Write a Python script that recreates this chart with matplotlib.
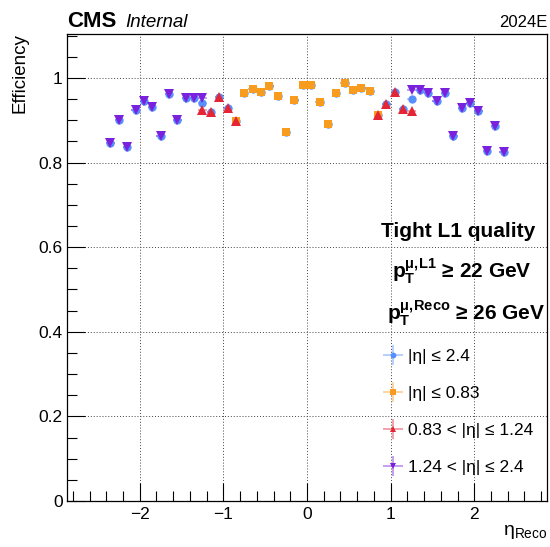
import matplotlib
matplotlib.use("Agg")
from matplotlib import pyplot as plt
from matplotlib.ticker import MultipleLocator
from matplotlib.legend_handler import HandlerErrorbar
from matplotlib.container import ErrorbarContainer

plt.rcParams['font.family'] = ['Liberation Sans', 'DejaVu Sans']
plt.rcParams['mathtext.fontset'] = 'custom'
plt.rcParams['mathtext.rm'] = 'Liberation Sans'
plt.rcParams['mathtext.it'] = 'Liberation Sans:italic'
plt.rcParams['mathtext.bf'] = 'Liberation Sans:bold'

# bin centres (eta_Reco), bin width 0.1
eta_all = [-2.35, -2.25, -2.15, -2.05, -1.95, -1.85, -1.75, -1.65, -1.55, -1.45, -1.35, -1.25,
           -1.15, -1.05, -0.95, -0.85, -0.75, -0.65, -0.55, -0.45, -0.35, -0.25, -0.15, -0.05,
           0.05, 0.15, 0.25, 0.35, 0.45, 0.55, 0.65, 0.75, 0.85, 0.95, 1.05, 1.15,
           1.25, 1.35, 1.45, 1.55, 1.65, 1.75, 1.85, 1.95, 2.05, 2.15, 2.25, 2.35]
eff_all = [0.847, 0.901, 0.836, 0.925, 0.945, 0.932, 0.863, 0.961, 0.900, 0.953, 0.953, 0.941,
           0.920, 0.956, 0.929, 0.899, 0.965, 0.974, 0.967, 0.982, 0.957, 0.873, 0.947, 0.984,
           0.983, 0.944, 0.891, 0.965, 0.987, 0.972, 0.976, 0.969, 0.913, 0.938, 0.968, 0.927,
           0.950, 0.971, 0.965, 0.946, 0.964, 0.863, 0.928, 0.940, 0.921, 0.828, 0.887, 0.826]

eta_brl = [-0.85, -0.75, -0.65, -0.55, -0.45, -0.35, -0.25, -0.15, -0.05,
           0.05, 0.15, 0.25, 0.35, 0.45, 0.55, 0.65, 0.75, 0.85]
eff_brl = [0.899, 0.965, 0.974, 0.967, 0.982, 0.957, 0.873, 0.947, 0.984,
           0.983, 0.944, 0.891, 0.965, 0.987, 0.972, 0.976, 0.969, 0.913]

eta_ovl = [-1.25, -1.15, -1.05, -0.95, -0.85, 0.85, 0.95, 1.05, 1.15, 1.25]
eff_ovl = [0.925, 0.920, 0.956, 0.929, 0.899, 0.913, 0.938, 0.968, 0.927, 0.921]

eta_end = [-2.35, -2.25, -2.15, -2.05, -1.95, -1.85, -1.75, -1.65, -1.55, -1.45, -1.35, -1.25,
           1.25, 1.35, 1.45, 1.55, 1.65, 1.75, 1.85, 1.95, 2.05, 2.15, 2.25, 2.35]
eff_end = [0.847, 0.901, 0.836, 0.925, 0.945, 0.932, 0.863, 0.961, 0.900, 0.953, 0.953, 0.953,
           0.971, 0.971, 0.965, 0.946, 0.964, 0.863, 0.928, 0.940, 0.921, 0.828, 0.887, 0.826]

series = [
    (eta_all, eff_all, '#5790fc', 'o', 6.0, '|η| ≤ 2.4'),
    (eta_brl, eff_brl, '#f89c20', 's', 5.5, '|η| ≤ 0.83'),
    (eta_ovl, eff_ovl, '#e42536', '^', 6.5, '0.83 < |η| ≤ 1.24'),
    (eta_end, eff_end, '#7a21dd', 'v', 6.5, '1.24 < |η| ≤ 2.4'),
]

fig = plt.figure(figsize=(5.5, 5.47), dpi=100)
ax = fig.add_axes([67/550, 46/547, 480/550, 467/547])

handles = []
for x, y, c, m, ms, lab in series:
    h = ax.errorbar(x, y, xerr=0.05, yerr=0.004, fmt=m, color=c, ms=ms, mew=0,
                    elinewidth=1.2, ecolor=c + '80', capsize=0, label=lab)
    handles.append(h)

ax.set_xlim(-2.87, 2.87)
ax.set_ylim(0, 1.104)
ax.xaxis.set_major_locator(MultipleLocator(1))
ax.xaxis.set_minor_locator(MultipleLocator(0.2))
ax.yaxis.set_minor_locator(MultipleLocator(0.05))
ax.set_yticks([0, 0.2, 0.4, 0.6, 0.8, 1.0], ['0', '0.2', '0.4', '0.6', '0.8', '1'])
ax.tick_params(which='both', direction='in', labelsize=12.5, top=False, right=False)
ax.tick_params(which='major', length=13, width=0.8)
ax.tick_params(which='minor', length=7, width=0.8)
ax.tick_params(axis='x', pad=4.5)
ax.tick_params(axis='y', pad=3.2)
ax.grid(True, which='major', color='#444444', linestyle=(0, (1, 2)), linewidth=0.7)
for s in ax.spines.values():
    s.set_linewidth(0.9)

fig.text(11.5/550, 1 - 33/547, 'Efficiency', fontsize=13.5, rotation=90,
         ha='left', va='top')
ax.set_xlabel(r'$\mathrm{η}_{\mathrm{Reco}}$', fontsize=14, loc='right')
ax.xaxis.set_label_coords(1.0, -0.047)

fig.text(67/550, 1 - 27/547, 'CMS', fontsize=16, fontweight='bold', ha='left', va='baseline')
fig.text(125/550, 1 - 27/547, 'Internal', fontsize=13.5, style='italic', ha='left', va='baseline')
fig.text(548/550, 1 - 27/547, '2024E', fontsize=12, ha='right', va='baseline')

t = ax.transAxes
ax.text((458 - 67) / 480, (501 - 237) / 467, 'Tight L1 quality', fontsize=15,
        fontweight='bold', ha='center', va='baseline', transform=t)
ax.text((462 - 67) / 480, (501 - 278) / 467,
        r'$\mathbf{p}_{\mathbf{T}}^{\mathbf{μ,\!L1}}$ ≥ 22 GeV', fontsize=15,
        fontweight='bold', ha='center', va='baseline', transform=t)
ax.text((466 - 67) / 480, (501 - 320) / 467,
        r'$\mathbf{p}_{\mathbf{T}}^{\mathbf{μ,\!Reco}}$ ≥ 26 GeV', fontsize=15,
        fontweight='bold', ha='center', va='baseline', transform=t)

ax.legend(handles=handles, loc='upper left',
          bbox_to_anchor=((383 - 67) / 480, (501 - 349) / 467),
          frameon=False, fontsize=12.5, handlelength=1.15, handletextpad=0.3,
          labelspacing=1.25, markerscale=0.7, borderaxespad=0, borderpad=0,
          handler_map={ErrorbarContainer: HandlerErrorbar(xerr_size=0.58)})

fig.savefig('out.png', dpi=100)
